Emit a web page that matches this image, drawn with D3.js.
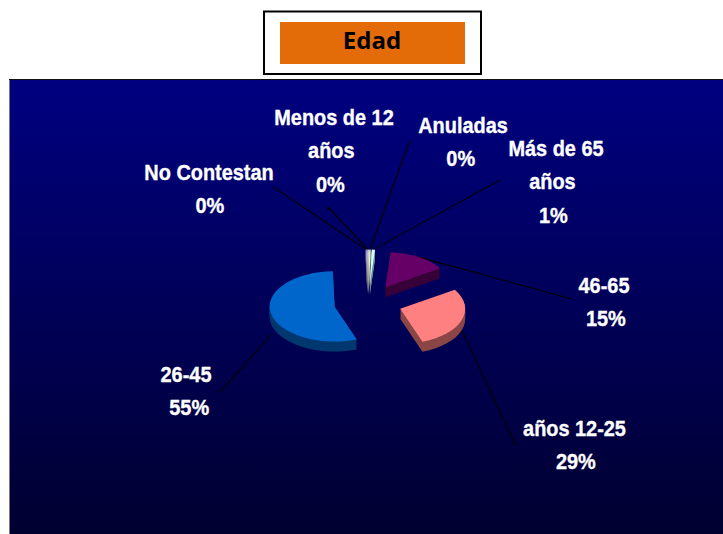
<!DOCTYPE html>
<html>
<head>
<meta charset="utf-8">
<script src="https://cdn.jsdelivr.net/npm/d3@7"></script>
<style>
    html, body {margin: 0; padding: 0; background: #fff;}
    svg {display: block;}
    .label {font-family: "Liberation Sans", Arial, sans-serif; font-weight: bold; font-size: 22px; fill: #fff; stroke: #fff; stroke-width: 0.35px; text-anchor: middle;}
    .title {font-family: "Open Sans", sans-serif; font-weight: bold; font-size: 24px; fill: #000; text-anchor: middle;}
</style>
</head>
<body>
<div id="chart"></div>
<script>
//Values, clockwise starting from the blue slice
var categories = ["26-45", "No Contestan", "Menos de 12 años", "Anuladas", "Más de 65 años", "46-65", "años 12-25"];
var values = [55.4, 0.3, 0.3, 0.3, 0.8, 14.7, 28.7];
var titleText = "Edad";

//Layout, kept apart from the data
var sliceColors = ["#0066CC", "#9999FF", "#FFFFCC", "#FFFFFF", "#CCFFFF", "#660066", "#FF8080"];
var labelLines = [["26-45"], ["No Contestan"], ["Menos de 12", "años"], ["Anuladas"], ["Más de 65", "años"], ["46-65"], ["años 12-25"]];
var labelCenters = [[186, 374], [209, 172], [334, 117], [463, 125], [556, 148], [604, 285], [574.5, 428]];
var labelLineShift = [[0, 3.5], [0, 1], [0, -3, -4], [0, -2.5], [0, -4, -3], [0, 2], [0, 1.5]]; //lines are not quite centred
var leaderEnds = [[221, 391], [275, 188], [328, 207], [410, 140], [500, 180], [572, 299], [515, 444]];
var leaderHooks = [[217, 391], [272, 188], [328, 210], [410, 140], [500, 180], [572, 299], [518, 444]];
var leaderDrop = [22, 0, 0, 0, 0, 0, 10];

var width = 723,
    height = 534,
    cx = 368,
    cy = 303,
    radius = 65,
    squash = 0.54,
    depth = 10,
    explode = 34,
    lineStep = 33.5;

var svg = d3.select("#chart").append("svg")
    .attr("width", width)
    .attr("height", height);

var gradient = svg.append("defs").append("linearGradient")
    .attr("id", "panelFill")
    .attr("x1", 0).attr("y1", 0)
    .attr("x2", 0).attr("y2", 1);
gradient.append("stop").attr("offset", "0%").attr("stop-color", "#000080");
gradient.append("stop").attr("offset", "100%").attr("stop-color", "#000030");

//Title box
svg.append("rect")
    .attr("x", 264).attr("y", 11.5)
    .attr("width", 217).attr("height", 62.5)
    .attr("fill", "#fff")
    .attr("stroke", "#000")
    .attr("stroke-width", 2);
svg.append("rect")
    .attr("x", 280).attr("y", 22)
    .attr("width", 185).attr("height", 42)
    .attr("fill", "#E36C09");
svg.append("text")
    .attr("class", "title")
    .attr("x", 372).attr("y", 49)
    .text(titleText);

//Chart panel
svg.append("rect")
    .attr("x", 10).attr("y", 80)
    .attr("width", width - 10).attr("height", height - 80)
    .attr("fill", "url(#panelFill)");
svg.append("path")
    .attr("d", "M9.5,534V79.5")
    .attr("stroke", "#777");
svg.append("path")
    .attr("d", "M9,79.5H723")
    .attr("stroke", "#111");

var total = d3.sum(values);
var percent = d3.format(".0%");

var startAngle = 160 * Math.PI / 180;
var pie = d3.pie()
    .sort(null)
    .startAngle(startAngle)
    .endAngle(startAngle + 2 * Math.PI);
var arc = d3.arc().innerRadius(0).outerRadius(radius);
var slices = pie(values);

function midAngle(d) {
    return (d.startAngle + d.endAngle) / 2;
}

//Position of a slice's tip once it has been pulled out of the pie
function sliceOrigin(d) {
    var a = midAngle(d);
    return [cx + explode * Math.sin(a), cy - explode * Math.cos(a) * squash];
}

//Leader lines go under the slices, with the small hook next to the label
svg.append("g").selectAll("path")
    .data(slices)
    .enter().append("path")
    .attr("d", function (d, i) {
        var o = sliceOrigin(d),
            x = o[0] + radius * Math.sin(midAngle(d)),
            y = o[1] - radius * Math.cos(midAngle(d)) * squash + leaderDrop[i];
        return d3.line()([leaderHooks[i], leaderEnds[i], [x, y]]);
    })
    .attr("fill", "none")
    .attr("stroke", "#000")
    .attr("stroke-width", 1.1);

//Each slice: darker copies stacked downward make the wall, then the top face
var sliceGroups = svg.append("g").selectAll("g")
    .data(slices)
    .enter().append("g")
    .attr("transform", function (d) {
        var o = sliceOrigin(d);
        return "translate(" + o[0] + "," + o[1] + ")";
    });

sliceGroups.each(function (d, i) {
    var g = d3.select(this);
    d3.range(depth, 0, -1).forEach(function (k) {
        g.append("path")
            .attr("d", arc(d))
            .attr("transform", "translate(0," + k + ") scale(1," + squash + ")")
            .attr("fill", d3.color(sliceColors[i]).darker(1.7));
    });
    g.append("path")
        .attr("d", arc(d))
        .attr("transform", "scale(1," + squash + ")")
        .attr("fill", sliceColors[i]);
});

//Labels: name lines plus the percentage worked out from the values
var labels = svg.append("g").selectAll("text")
    .data(slices)
    .enter().append("text")
    .attr("class", "label")
    .attr("transform", function (d, i) {
        return "translate(" + labelCenters[i][0] + "," + (labelCenters[i][1] + 8) + ") scale(0.905,1)";
    });

labels.each(function (d, i) {
    d3.select(this).selectAll("tspan")
        .data(labelLines[i].concat(percent(d.value / total)))
        .enter().append("tspan")
        .attr("x", function (t, k) { return labelLineShift[i][k]; })
        .attr("y", function (t, k) { return k * lineStep; })
        .text(function (t) { return t; });
});
</script>
</body>
</html>
